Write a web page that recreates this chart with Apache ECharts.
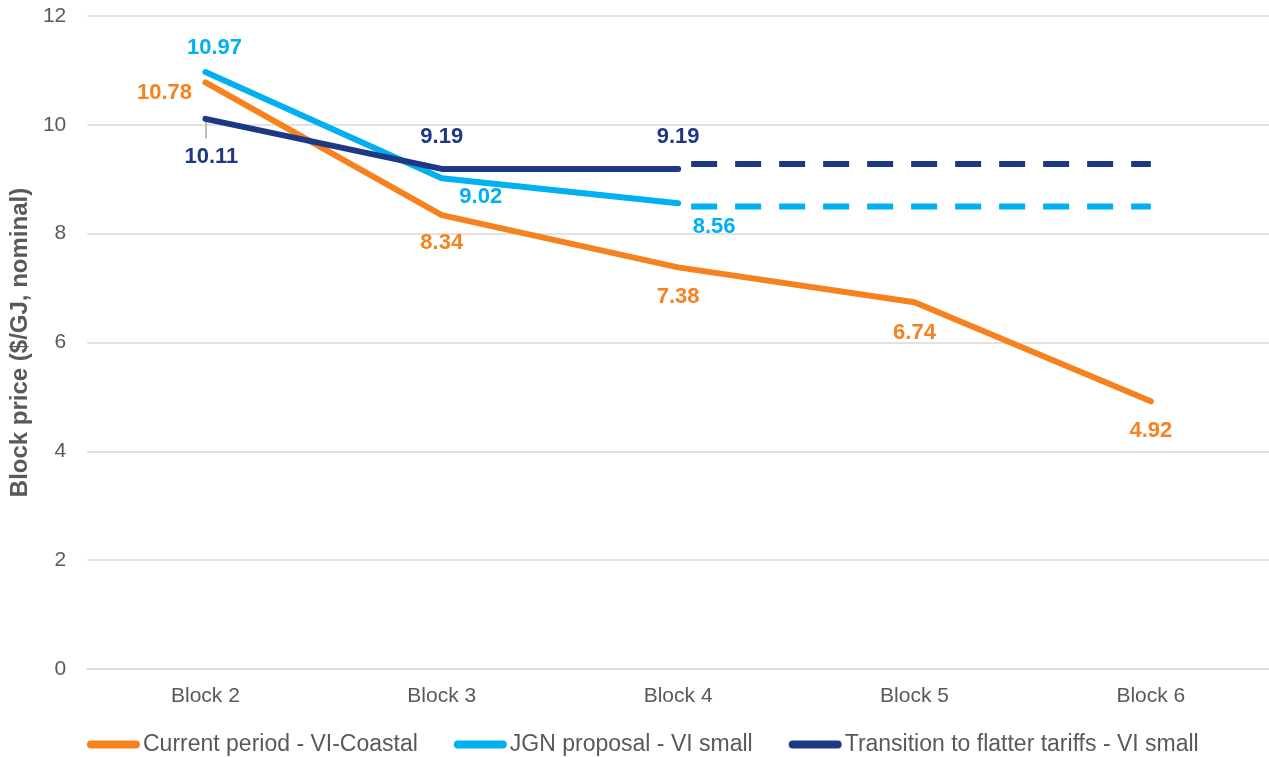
<!DOCTYPE html>
<html>
<head>
<meta charset="utf-8">
<script src="https://cdn.jsdelivr.net/npm/echarts@6/dist/echarts.min.js"></script>
<style>
  html, body { margin: 0; padding: 0; background: #fff; }
  #main { width: 1269px; height: 757px; }
</style>
</head>
<body>
<div id="main"></div>
<script>
// 数据
const categories = ["Block 2", "Block 3", "Block 4", "Block 5", "Block 6"];
const currentCoastal = [10.78, 8.34, 7.38, 6.74, 4.92];
const jgnProposal = [10.97, 9.02, 8.56, null, null];
const flatterTariffs = [10.11, 9.19, 9.19, null, null];
// 虚线延伸部分 (Block 4 - Block 6)
const jgnDashed = [null, null, 8.5, 8.5, 8.5];
const flatterDashed = [null, null, 9.28, 9.28, 9.28];

const ORANGE = "#F5821F";
const LIGHTBLUE = "#00B0F0";
const NAVY = "#1D3885";

const font = "Liberation Sans, Arial, sans-serif";

// 每个点标签的偏移
const orangeOffsets = [[-41, 11], [0, 28], [0, 30], [0, 31], [0, 30]];
const blueOffsets = [[9, -24], [39, 19], [36, 24]];
const navyOffsets = [[6, 38], [0, -32], [0, -32]];

function withLabels(values, offsets, color) {
  return values.map(function (v, i) {
    if (v === null) return null;
    return {
      value: v,
      label: {
        show: true,
        position: "inside",
        offset: offsets[i],
        color: color,
        fontFamily: font,
        fontWeight: "bold",
        fontSize: 22,
        formatter: function (p) { return p.value.toFixed(2); },
      },
    };
  });
}

function solidLine(name, values, offsets, color, z) {
  return {
    name: name,
    type: "line",
    data: withLabels(values, offsets, color),
    symbol: "circle",
    symbolSize: 1,
    showSymbol: true,
    showAllSymbol: true,
    color: color,
    itemStyle: { color: color },
    lineStyle: { width: 6, color: color, cap: "round" },
    z: z,
  };
}

function dashedLine(values, color) {
  return {
    type: "line",
    data: values,
    symbol: "none",
    silent: true,
    lineStyle: { width: 6, color: color, type: [26, 18], dashOffset: 31 },
    z: 2,
  };
}

let myChart = echarts.init(document.getElementById("main"));

let option = {
  backgroundColor: "#fff",
  animation: false,
  grid: { left: 86, right: 0, top: 16, bottom: 88 },
  legend: {
    bottom: -4,
    left: 82,
    itemWidth: 53,
    itemHeight: 8,
    itemGap: 36,
    icon: "path://M4,0 H49 A4,4 0 0 1 49,8 H4 A4,4 0 0 1 4,0 Z", //胶囊形图标
    textStyle: { color: "#595959", fontFamily: font, fontSize: 23, padding: [0, 0, 0, -2] },
    data: ["Current period - VI-Coastal", "JGN proposal - VI small", "Transition to flatter tariffs - VI small"],
  },
  xAxis: {
    type: "category",
    data: categories,
    boundaryGap: true,
    axisLine: { lineStyle: { color: "#D9D9D9", width: 1.5 } },
    axisTick: { show: false },
    axisLabel: { color: "#595959", fontFamily: font, fontSize: 21, margin: 17 },
  },
  yAxis: {
    type: "value",
    min: 0,
    max: 12,
    interval: 2,
    name: "Block price ($/GJ, nominal)",
    nameLocation: "middle",
    nameGap: 54,
    nameTextStyle: { color: "#595959", fontFamily: font, fontSize: 24, fontWeight: "bold" },
    axisLine: { show: false },
    axisTick: { show: false },
    axisLabel: { color: "#595959", fontFamily: font, fontSize: 21, margin: 21 },
    splitLine: { lineStyle: { color: "#D9D9D9", width: 1.5 } },
  },
  series: [
    solidLine("Current period - VI-Coastal", currentCoastal, orangeOffsets, ORANGE, 3),
    solidLine("JGN proposal - VI small", jgnProposal, blueOffsets, LIGHTBLUE, 4),
    solidLine("Transition to flatter tariffs - VI small", flatterTariffs, navyOffsets, NAVY, 5),
    dashedLine(jgnDashed, LIGHTBLUE),
    dashedLine(flatterDashed, NAVY),
    {
      // 10.11 标签引线
      type: "line",
      data: [10.11, null, null, null, null],
      symbol: "none",
      silent: true,
      lineStyle: { width: 0 },
      markLine: {
        silent: true,
        symbol: "none",
        label: { show: false },
        lineStyle: { color: "#A6A6A6", width: 1.5, type: "solid" },
        data: [[
          { coord: ["Block 2", 10.05] },
          { coord: ["Block 2", 9.75] },
        ]],
      },
    },
  ],
};

myChart.setOption(option);
</script>
</body>
</html>
